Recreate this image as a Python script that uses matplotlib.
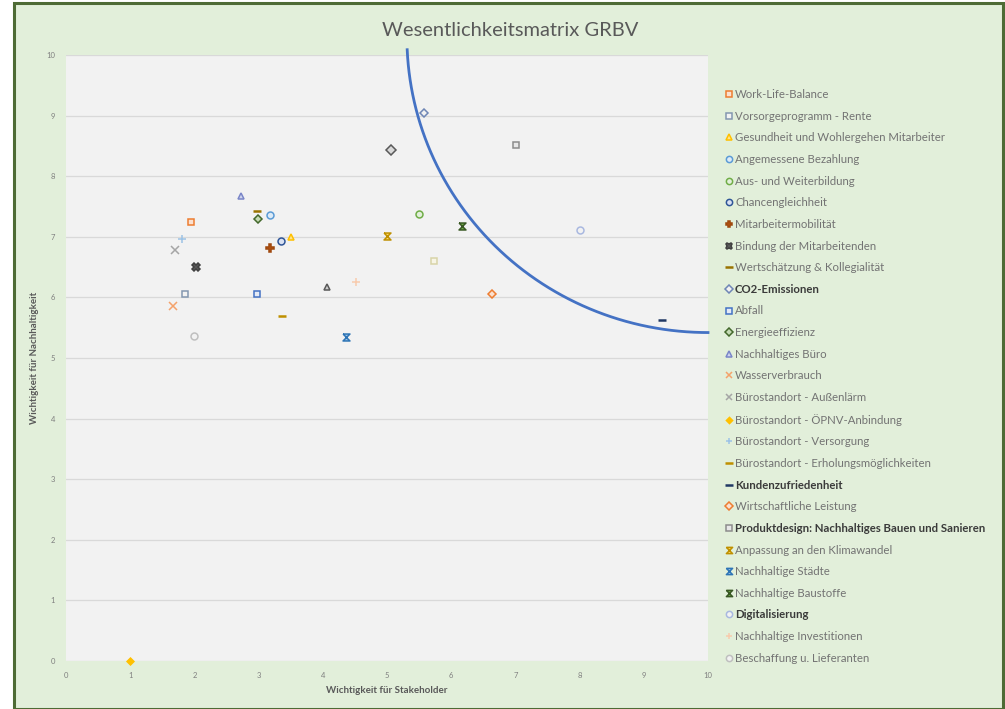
import numpy as np
import matplotlib
matplotlib.use("Agg")
import matplotlib.pyplot as plt
from matplotlib.patches import Rectangle

plt.rcParams['font.family'] = ['Lato', 'DejaVu Sans']

# ---------------- data ----------------
series_names = [
    "Work-Life-Balance", "Vorsorgeprogramm - Rente", "Gesundheit und Wohlergehen Mitarbeiter",
    "Angemessene Bezahlung", "Aus- und Weiterbildung", "Chancengleichheit", "Mitarbeitermobilität",
    "Bindung der Mitarbeitenden", "Wertschätzung & Kollegialität", "CO2-Emissionen", "Abfall",
    "Energieeffizienz", "Nachhaltiges Büro", "Wasserverbrauch", "Bürostandort - Außenlärm",
    "Bürostandort - ÖPNV-Anbindung", "Bürostandort - Versorgung",
    "Bürostandort - Erholungsmöglichkeiten", "Kundenzufriedenheit", "Wirtschaftliche Leistung",
    "Produktdesign: Nachhaltiges Bauen und Sanieren", "Anpassung an den Klimawandel",
    "Nachhaltige Städte", "Nachhaltige Baustoffe", "Digitalisierung", "Nachhaltige Investitionen",
    "Beschaffung u. Lieferanten",
]
stakeholder = [1.95, 1.85, 3.50, 3.18, 5.50, 3.35, 3.18, 2.02, 2.98, 5.58, 2.98, 2.99, 2.73, 1.67,
               1.70, 1.00, 1.81, 3.36, 9.28, 6.64, 7.01, 5.00, 4.36, 6.17, 8.00, 4.52, 2.00]
nachhaltigkeit = [7.24, 6.06, 7.00, 7.36, 7.38, 6.93, 6.82, 6.50, 7.42, 9.04, 6.06, 7.29, 7.67, 5.85,
                  6.78, 0.00, 6.96, 5.70, 5.62, 6.05, 8.51, 7.02, 5.34, 7.17, 7.12, 6.25, 5.36]

# points without legend entry
extra_x = [4.07, 5.06, 5.73]
extra_y = [6.17, 8.43, 6.60]

bold_names = {"CO2-Emissionen", "Kundenzufriedenheit",
              "Produktdesign: Nachhaltiges Bauen und Sanieren", "Digitalisierung"}

# threshold arc (quarter ellipse): centre and radii in data units
arc_center = (10.0, 10.3)
arc_radii = (4.69, 4.88)
arc_angles = (182.5, 270.0)

x_ticks = list(range(0, 11))
y_ticks = list(range(0, 11))

# ---------------- styles ----------------
hourglass = [(-1, 1), (1, 1), (-1, -1), (1, -1), (-1, 1)]
styles = [
    ('s', '#ED7D31', '#FBE0CF'), ('s', '#8497B0', '#F2F2F2'), ('^', '#FFC000', '#FFE38A'),
    ('o', '#5B9BD5', '#DDEBF7'), ('o', '#70AD47', '#E2EFDA'), ('o', '#2F5597', '#D9E1F2'),
    ('P', '#9E480E', '#C55A11'), ('X', '#404040', '#595959'), ('_', '#997300', '#997300'),
    ('D', '#6F86B5', '#F2F2F2'), ('s', '#4472C4', '#E4EAF6'), ('D', '#43682B', '#C5DBB5'),
    ('^', '#7A86C8', '#D0D6EE'), ('x', '#F4A26B', '#F4A26B'), ('x', '#A5A5A5', '#A5A5A5'),
    ('D', '#FFC000', '#FFC000'), ('+', '#9DC3E6', '#9DC3E6'), ('_', '#BF9000', '#BF9000'),
    ('_', '#203864', '#203864'), ('D', '#ED7D31', '#FBE0CF'), ('s', '#8C8C8C', '#E7E7E7'),
    (hourglass, '#BF9000', '#FFD966'), (hourglass, '#2E75B6', '#9DC3E6'),
    (hourglass, '#385723', '#70AD47'), ('o', '#A9B8E0', '#F2F2F2'), ('+', '#F8CBAD', '#F8CBAD'),
    ('o', '#BFBFBF', '#F2F2F2'),
]
extra_styles = [('^', '#595959', '#D0D0D0'), ('D', '#595959', '#D9D9D9'), ('s', '#D8D4A8', '#F7F5E6')]

W, H = 1005, 709
fig = plt.figure(figsize=(W / 100, H / 100), dpi=100)
fig.patch.set_facecolor('white')
fig.patches.append(Rectangle((14 / W, 0), 989 / W, 1 - 3 / H, transform=fig.transFigure,
                             facecolor='#E2EFDA', edgecolor='#4E6B35', linewidth=2.2, zorder=-10))

ax = fig.add_axes([66 / W, 48 / H, 642 / W, 606 / H])
ax.set_zorder(1)
ax.set_facecolor('#F2F2F2')
for s in ax.spines.values():
    s.set_visible(False)
ax.set_xlim(0, 10)
ax.set_ylim(0, 10)
ax.set_xticks(x_ticks)
ax.set_yticks(y_ticks)
ax.set_xticklabels([str(t) for t in x_ticks])
ax.set_yticklabels([str(t) for t in y_ticks])
ax.tick_params(length=0, labelsize=5.5, labelcolor='#7F7F7F')
ax.tick_params(axis='x', pad=8)
ax.tick_params(axis='y', pad=8)
ax.grid(axis='y', color='#D9D9D9', linewidth=0.9)
ax.set_axisbelow(True)

ax.set_xlabel("Wichtigkeit für Stakeholder", fontsize=7, fontweight='bold', color='#595959', labelpad=5)
ax.set_ylabel("Wichtigkeit für Nachhaltigkeit", fontsize=7, fontweight='bold', color='#595959', labelpad=5)

# arc
t = np.radians(np.linspace(arc_angles[0], arc_angles[1], 300))
ax.plot(arc_center[0] + arc_radii[0] * np.cos(t), arc_center[1] + arc_radii[1] * np.sin(t),
        color='#4472C4', linewidth=2.0, clip_on=False, zorder=2)

handles = []
for name, x, y, (m, ec, fc) in zip(series_names, stakeholder, nachhaltigkeit, styles):
    ms = 5.0
    mew = 1.1
    if m == '_':
        ms, mew = 6, 1.8
    if m in ('x', '+', 'P', 'X'):
        ms = 5.5
    if m == 'D':
        ms = 4.2
    if name == "Bürostandort - ÖPNV-Anbindung":
        ms = 3.5
    h, = ax.plot([x], [y], linestyle='none', marker=m, markersize=ms, markeredgecolor=ec,
                 markerfacecolor=fc, markeredgewidth=mew, label=name, clip_on=False, zorder=3)
    handles.append(h)

for x, y, (m, ec, fc) in zip(extra_x, extra_y, extra_styles):
    ax.plot([x], [y], linestyle='none', marker=m, markersize=4.6, markeredgecolor=ec,
            markerfacecolor=fc, markeredgewidth=1.1, label='_nolegend_', zorder=3)

leg = fig.legend(handles=handles, labels=series_names, loc='upper left',
                 bbox_to_anchor=(726 / W, 1 - 89 / H), frameon=False, fontsize=8.2,
                 labelspacing=0.935, handlelength=0.5, handletextpad=0.3, borderpad=0,
                 borderaxespad=0, markerscale=0.9)
for txt in leg.get_texts():
    if txt.get_text() in bold_names:
        txt.set_fontweight('bold')
        txt.set_color('#3A3A3A')
    else:
        txt.set_color('#737373')

fig.text(510 / W, 1 - 30 / H, "Wesentlichkeitsmatrix GRBV", ha='center', va='center',
         fontsize=14.5, color='#595959')

fig.savefig('out.png', dpi=100, facecolor=fig.get_facecolor())
